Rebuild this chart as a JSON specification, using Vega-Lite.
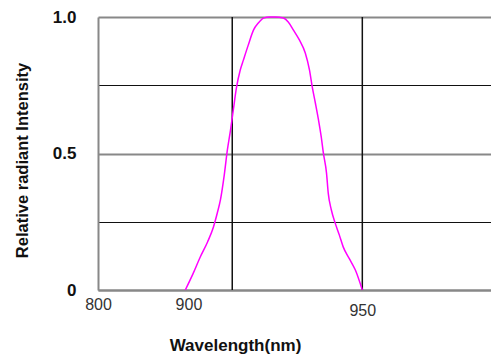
{
  "$schema": "https://vega.github.io/schema/vega-lite/v6.json",
  "width": 393,
  "height": 273,
  "autosize": "none",
  "padding": {"left": 98, "top": 17, "right": 0, "bottom": 67},
  "background": "white",
  "config": {
    "view": {"stroke": null},
    "font": "Liberation Sans"
  },
  "datasets": {
    "curve": [
      {"wl": 899.1, "ri": 0},
      {"wl": 901.4, "ri": 0.062},
      {"wl": 903.4, "ri": 0.121},
      {"wl": 905.5, "ri": 0.176},
      {"wl": 907.2, "ri": 0.231},
      {"wl": 908.3, "ri": 0.282},
      {"wl": 909.2, "ri": 0.33},
      {"wl": 910.3, "ri": 0.421},
      {"wl": 911.2, "ri": 0.513},
      {"wl": 912.1, "ri": 0.586},
      {"wl": 912.9, "ri": 0.659},
      {"wl": 913.8, "ri": 0.74},
      {"wl": 914.9, "ri": 0.806},
      {"wl": 915.8, "ri": 0.842},
      {"wl": 917.2, "ri": 0.897},
      {"wl": 918.7, "ri": 0.952},
      {"wl": 920.1, "ri": 0.978},
      {"wl": 921.6, "ri": 0.996},
      {"wl": 923.3, "ri": 1.0},
      {"wl": 925.0, "ri": 1.0},
      {"wl": 927.3, "ri": 0.996},
      {"wl": 928.7, "ri": 0.982},
      {"wl": 930.2, "ri": 0.952},
      {"wl": 931.9, "ri": 0.916},
      {"wl": 933.6, "ri": 0.868},
      {"wl": 934.8, "ri": 0.806},
      {"wl": 935.6, "ri": 0.744},
      {"wl": 936.5, "ri": 0.685},
      {"wl": 937.4, "ri": 0.623},
      {"wl": 938.2, "ri": 0.56},
      {"wl": 938.8, "ri": 0.502},
      {"wl": 939.7, "ri": 0.429},
      {"wl": 940.2, "ri": 0.355},
      {"wl": 941.1, "ri": 0.293},
      {"wl": 942.2, "ri": 0.245},
      {"wl": 943.4, "ri": 0.201},
      {"wl": 944.5, "ri": 0.158},
      {"wl": 946.3, "ri": 0.114},
      {"wl": 948.0, "ri": 0.073},
      {"wl": 950.0, "ri": 0}
    ],
    "vgrid": [{"wl": 912.6}, {"wl": 950}]
  },
  "layer": [
    {
      "data": {"name": "vgrid"},
      "mark": {"type": "rule", "color": "#111", "strokeWidth": 1.5},
      "encoding": {
        "x": {"field": "wl", "type": "quantitative", "scale": {"domain": [874, 987], "nice": false, "zero": false}}
      }
    },
    {
      "data": {"name": "curve"},
      "mark": {"type": "line", "color": "#ff00ff", "strokeWidth": 1.5, "interpolate": "monotone"},
      "encoding": {
        "x": {
          "field": "wl", "type": "quantitative",
          "scale": {"domain": [874, 987], "nice": false, "zero": false},
          "axis": {
            "values": [874, 900, 950],
            "labelExpr": "datum.value == 874 ? '800' : datum.value",
            "ticks": false,
            "grid": false,
            "domainColor": "#888",
            "domainWidth": 2,
            "labelFontSize": 16,
            "labelColor": "#333",
            "labelPadding": {"condition": {"test": "datum.value == 950", "value": 12}, "value": 6},
            "labelFlush": false,
            "title": "Wavelength(nm)",
            "titleFontSize": 17,
            "titleFontWeight": "bold",
            "titleColor": "#111",
            "titleX": 137,
            "titleY": 55,
            "titleAnchor": null,
            "titleAlign": "center",
            "titleBaseline": "middle"
          }
        },
        "y": {
          "field": "ri", "type": "quantitative",
          "scale": {"domain": [0, 1], "nice": false},
          "axis": {
            "values": [0, 0.25, 0.5, 0.75, 1],
            "labelExpr": "datum.value == 0.25 || datum.value == 0.75 ? '' : (datum.value == 0 ? '0' : format(datum.value, '.1f'))",
            "ticks": false,
            "grid": true,
            "gridColor": {"condition": {"test": "datum.value == 0.25 || datum.value == 0.75", "value": "#111"}, "value": "#888"},
            "gridWidth": {"condition": {"test": "datum.value == 0.25 || datum.value == 0.75", "value": 1.2}, "value": 2},
            "gridOpacity": 1,
            "domainColor": "#888",
            "domainWidth": 2,
            "labelFontSize": 17,
            "labelFontWeight": "bold",
            "labelColor": "#111",
            "labelPadding": 22,
            "labelFlush": false,
            "title": "Relative radiant Intensity",
            "titleFontSize": 16.5,
            "titleFontWeight": "bold",
            "titleColor": "#111",
            "titleX": -76,
            "titleY": 143,
            "titleAngle": -90,
            "titleAnchor": null,
            "titleAlign": "center",
            "titleBaseline": "middle"
          }
        }
      }
    }
  ]
}
